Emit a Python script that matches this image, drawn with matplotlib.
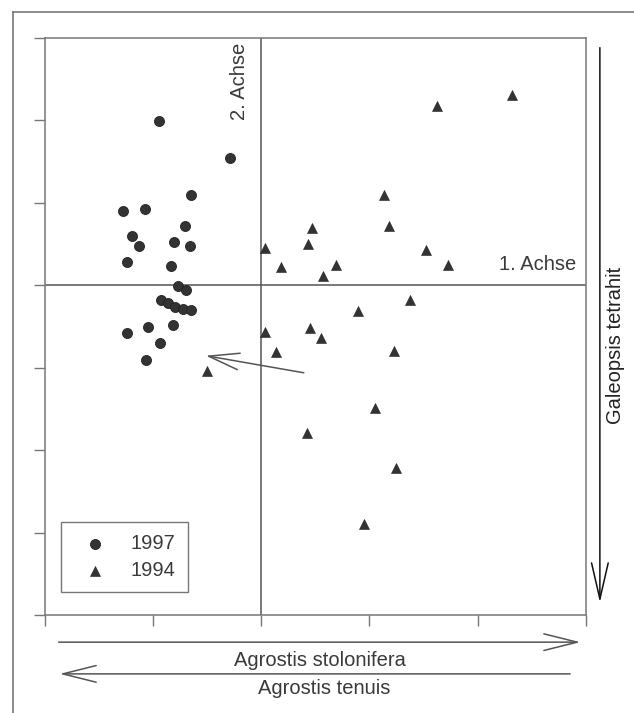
import matplotlib
matplotlib.use("Agg")
import matplotlib.pyplot as plt
from matplotlib.lines import Line2D
from matplotlib.patches import FancyArrowPatch

plt.rcParams['font.family'] = ['Liberation Sans', 'DejaVu Sans']

# ordination scores (axis 1, axis 2)
x_1997 = [-0.947, -0.288, -0.650, -1.281, -1.077, -0.706, -1.198, -1.133, -0.808, -0.659,
          -1.244, -0.836, -0.771, -0.696, -0.929, -0.864, -0.799, -0.725, -0.650,
          -1.244, -1.049, -0.817, -0.938, -1.068]
y_1997 = [1.988, 1.539, 1.091, 0.897, 0.921, 0.715, 0.594, 0.473, 0.521, 0.473,
          0.279, 0.230, -0.012, -0.061, -0.182, -0.218, -0.267, -0.291, -0.303,
          -0.582, -0.509, -0.485, -0.703, -0.909]

x_1994 = [2.321, 1.625, 1.133, 1.179, 0.464, 0.436, 1.523, 1.727, 0.687, 0.566,
          0.037, 0.186, 1.374, 0.891, 0.446, 0.548, 0.037, 0.139, 1.226, -0.501,
          1.049, 0.418, 1.244, 0.947]
y_1994 = [2.303, 2.170, 1.091, 0.715, 0.691, 0.497, 0.424, 0.242, 0.242, 0.109,
          0.448, 0.218, -0.182, -0.315, -0.521, -0.642, -0.570, -0.812, -0.800, -1.042,
          -1.491, -1.794, -2.218, -2.897]

# environmental vector in the plot
vec_start = (0.418, -1.067)
vec_end = (-0.539, -0.848)

x_ticks = [-2, -1, 0, 1, 2, 3]
y_ticks = [-4, -3, -2, -1, 0, 1, 2, 3]

line_col = '#555555'
text_col = '#3a3a3a'
mark_col = '#333333'

fig = plt.figure(figsize=(6.34, 7.13), dpi=100)
ax = fig.add_axes([0.071, 0.1374, 0.853, 0.8093])

ax.scatter(x_1997, y_1997, s=52, marker='o', color=mark_col, edgecolor='#222222',
           linewidth=0.6, label='1997', zorder=3)
ax.scatter(x_1994, y_1994, s=52, marker='^', color=mark_col, edgecolor='#222222',
           linewidth=0.4, label='1994', zorder=3)

ax.axhline(0, color=line_col, lw=1.1, zorder=1)
ax.axvline(0, color=line_col, lw=1.1, zorder=1)

ax.annotate('', xy=vec_end, xytext=vec_start,
            arrowprops=dict(arrowstyle='->,head_length=2.2,head_width=0.6',
                            mutation_scale=10, color=line_col, lw=1.1))

ax.set_xlim(-2, 3)
ax.set_ylim(-4, 3)
ax.set_xticks(x_ticks)
ax.set_yticks(y_ticks)
ax.set_xticklabels([])
ax.set_yticklabels([])
ax.tick_params(direction='out', length=8, width=1, color='#777777')
for sp in ax.spines.values():
    sp.set_color('#777777')
    sp.set_linewidth(1.1)

ax.text(0.360, 0.991, '2. Achse', transform=ax.transAxes, rotation=90,
        ha='center', va='top', fontsize=14.5, color=text_col)
ax.text(0.983, 0.607, '1. Achse', transform=ax.transAxes,
        ha='right', va='center', fontsize=14.5, color=text_col)

leg = ax.legend(loc='lower left', bbox_to_anchor=(0.030, 0.040), fontsize=14.5,
                frameon=True, fancybox=False, edgecolor='#555555',
                handletextpad=0.65, borderpad=0.6, labelspacing=0.4,
                handlelength=2.2, borderaxespad=0)
leg.get_frame().set_linewidth(1.0)
for t in leg.get_texts():
    t.set_color(text_col)

# gradient arrows outside the plot
def side_arrow(p0, p1):
    a = FancyArrowPatch(p0, p1, transform=ax.transAxes,
                        arrowstyle='->,head_length=2.4,head_width=0.6',
                        mutation_scale=10, color=line_col, lw=1.1, clip_on=False)
    ax.add_patch(a)

side_arrow((0.020, -0.047), (0.995, -0.047))
ax.text(0.509, -0.078, 'Agrostis stolonifera', transform=ax.transAxes,
        ha='center', va='center', fontsize=14.5, color=text_col)
side_arrow((0.976, -0.102), (0.022, -0.102))
ax.text(0.517, -0.127, 'Agrostis tenuis', transform=ax.transAxes,
        ha='center', va='center', fontsize=14.5, color=text_col)

a = FancyArrowPatch((1.026, 0.988), (1.026, 0.017), transform=ax.transAxes,
                    arrowstyle='->,head_length=2.6,head_width=0.6',
                    mutation_scale=10, color='#111111', lw=1.1, clip_on=False)
ax.add_patch(a)
ax.text(1.055, 0.468, 'Galeopsis tetrahit', transform=ax.transAxes, rotation=90,
        ha='center', va='center', fontsize=14.5, color='#222222')

# outer frame of the scanned page
fig.add_artist(Line2D([0.0205, 1.0], [0.983, 0.983], transform=fig.transFigure,
                      color='#777777', lw=1.2))
fig.add_artist(Line2D([0.0205, 0.0205], [0.0, 0.983], transform=fig.transFigure,
                      color='#777777', lw=1.2))

fig.savefig('out.png', dpi=100)
